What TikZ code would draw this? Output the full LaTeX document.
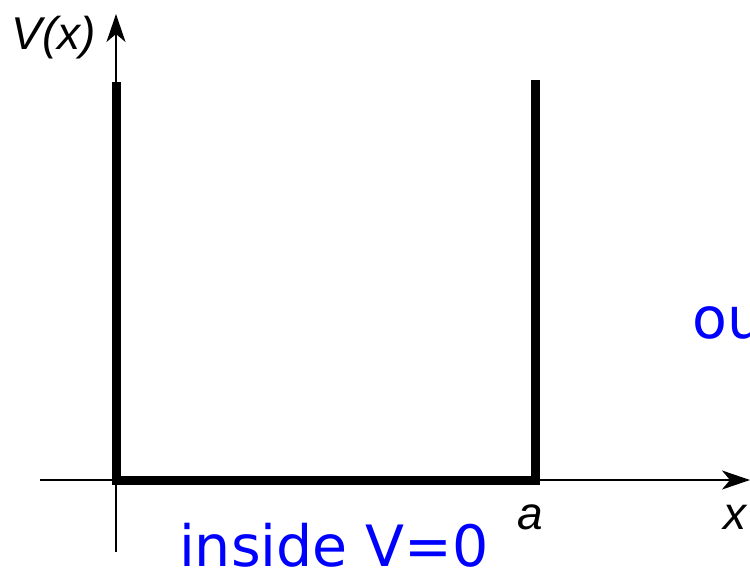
\documentclass[tikz,border=0pt]{standalone}
\usepackage{fontspec}
\setmainfont{DejaVu Sans}
\newfontfamily\labfont{Liberation Sans}
\usetikzlibrary{arrows.meta}
\begin{document}
\begin{tikzpicture}[x=1pt,y=-1pt,
  axis/.style={line width=2pt,-{Stealth[length=28pt,width=19pt,inset=8pt]}},
  wall/.style={line width=9pt},
  lab/.style={font=\labfont\itshape\fontsize{46}{46}\selectfont,inner sep=0pt},
  blue label/.style={text=blue,font=\fontsize{57}{57}\selectfont,inner sep=0pt}]
\useasboundingbox (0,0) rectangle (750,573);
\begin{scope}
\clip (0,0) rectangle (750,573);
\coordinate (O) at (116,480);
\coordinate (ybot) at (116,552);
\coordinate (ytop) at (116,14);
\coordinate (xleft) at (40,480);
\coordinate (xright) at (750,480);
\coordinate (lt) at (116,82);
\coordinate (A) at (535,480);
\coordinate (rt) at (535,80);
\draw[axis] (ybot) -- (ytop);
\draw[axis] (xleft) -- (xright);
\draw[wall,line cap=butt,line join=miter] (lt) -- (O) -- (A) -- (rt);
\node[lab,anchor=base] (V) at (54,49) {V(x)};
\node[lab,anchor=base] (a) at (530,529) {a};
\node[lab,anchor=base] (x) at (735,529) {x};
\node[blue label,anchor=base] (ins) at (334,566) {inside V=0};
\node[blue label,anchor=base west] (out) at (692,338) {ou};
\end{scope}
\end{tikzpicture}
\end{document}
